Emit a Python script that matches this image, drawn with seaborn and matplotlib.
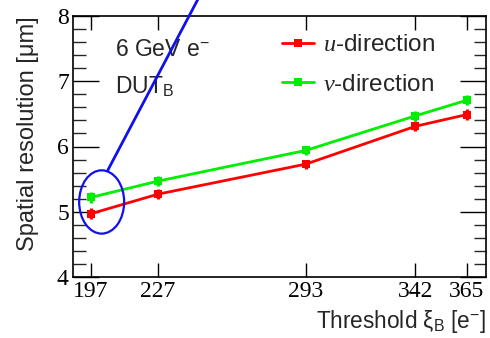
import matplotlib
matplotlib.use("Agg")
import matplotlib.pyplot as plt
from matplotlib.patches import Ellipse
from matplotlib.ticker import FixedLocator, MultipleLocator
import seaborn as sns
import pandas as pd

# Measured spatial resolution vs. threshold
thresholds = [197, 227, 293, 342, 365]
res_u = [4.97, 5.27, 5.73, 6.31, 6.49]
res_v = [5.22, 5.47, 5.94, 6.47, 6.71]
err_u = [0.08, 0.08, 0.07, 0.08, 0.08]
err_v = [0.08, 0.08, 0.07, 0.08, 0.08]
tick_labels = ["197", "227", "293", "342", "365"]

sns.set_theme(style="white")
plt.rcParams["font.family"] = ["Liberation Sans", "DejaVu Sans"]
plt.rcParams["mathtext.fontset"] = "custom"
plt.rcParams["mathtext.rm"] = "Liberation Sans"
plt.rcParams["mathtext.it"] = "Liberation Serif:italic"

df = pd.concat([
    pd.DataFrame({"threshold": thresholds, "res": res_u, "err": err_u, "dir": "u"}),
    pd.DataFrame({"threshold": thresholds, "res": res_v, "err": err_v, "dir": "v"}),
])

fig = plt.figure(figsize=(4.9, 3.38), dpi=100)
ax = fig.add_axes([73 / 490, 1 - 277 / 338, (486 - 73) / 490, (277 - 16) / 338])

colors = {"u": "#ff0000", "v": "#00ee00"}
labels = {"u": r"$u$-direction", "v": r"$v$-direction"}
for d in ["u", "v"]:
    sub = df[df["dir"] == d]
    ax.errorbar(sub["threshold"], sub["res"], yerr=sub["err"], fmt="none",
                ecolor=colors[d], elinewidth=2.4, capsize=0, zorder=3)
    sns.lineplot(data=sub, x="threshold", y="res", ax=ax, color=colors[d],
                 marker="s", markersize=5.2, markeredgewidth=0, linewidth=2,
                 label=labels[d], zorder=4)

ax.set_xlim(189, 373.5)
ax.set_ylim(4, 8)

ax.xaxis.set_major_locator(FixedLocator(thresholds))
ax.set_xticklabels(tick_labels, family="Liberation Serif", fontsize=17)
ax.yaxis.set_major_locator(MultipleLocator(1))
ax.yaxis.set_minor_locator(MultipleLocator(0.2))
for lab in ax.get_yticklabels():
    lab.set_family("Liberation Serif")
    lab.set_fontsize(17)
ax.tick_params(axis="x", which="major", direction="in", length=10, width=1,
               top=True, bottom=True, pad=3, colors="black")
ax.tick_params(axis="y", which="major", direction="in", length=19, width=1,
               left=True, right=True, pad=3, colors="black")
ax.tick_params(axis="y", which="minor", direction="in", length=9, width=1,
               left=True, right=True)
for s in ax.spines.values():
    s.set_color("black")
    s.set_linewidth(1.2)

ax.set_xlabel(r"Threshold ξ$_\mathregular{B}$ [e$^\mathregular{-}$]", fontsize=16.3,
              loc="right", labelpad=4)
ax.set_ylabel("Spatial resolution [μm]", fontsize=17, loc="top", labelpad=13)

ax.text(0.102, 0.915, r"6 GeV e$^\mathregular{-}$", transform=ax.transAxes,
        fontsize=16.5, va="top", ha="left")
ax.text(0.102, 0.775, r"DUT$_\mathregular{B}$", transform=ax.transAxes,
        fontsize=16.5, va="top", ha="left")

leg = ax.legend(loc="upper left", bbox_to_anchor=(0.506, 0.931), frameon=False,
                fontsize=17.5, handlelength=1.3, handletextpad=0.4,
                labelspacing=0.72, borderpad=0, borderaxespad=0)

# Highlight the lowest-threshold points
ax.add_patch(Ellipse((201.8, 5.15), 20.1, 0.97, fill=False, edgecolor="#1010ee",
                     linewidth=1.6, zorder=5))
ax.plot([204.6, 247.0], [5.64, 8.4], color="#1010ee", linewidth=2,
        clip_on=False, zorder=5)

fig.savefig("out.png", dpi=100)
